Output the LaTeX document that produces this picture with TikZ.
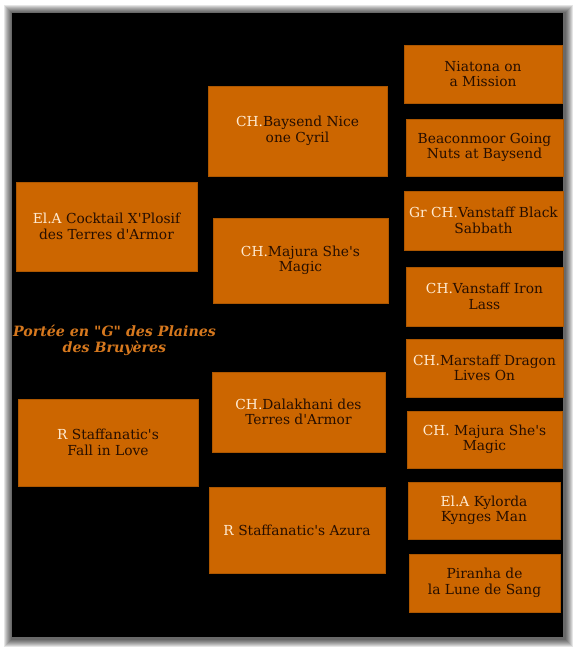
\documentclass[tikz,border=0pt]{standalone}
\usepackage{fontspec}
\setmainfont{DejaVu Serif}
\definecolor{boxorange}{RGB}{204,102,0}
\definecolor{namebrown}{RGB}{38,14,0}
\definecolor{prefixcream}{RGB}{255,236,212}
\definecolor{headorange}{RGB}{214,120,30}
\newcommand{\pfx}[1]{\textcolor{prefixcream}{#1}}
\newcommand{\ap}{\textquotesingle}

\begin{document}
\begin{tikzpicture}[%
        x=1pt, y=-1pt,
        dog/.style={rectangle, fill=boxorange, draw=boxorange!85!black, line width=0.5pt, text=namebrown, align=center, inner sep=0pt, font=\fontsize{13.8}{15.5}\selectfont}]
        % Background and shadow
        \useasboundingbox (0,0) rectangle (576,648);
        \fill[white] (0,0) rectangle (576,648);
        \foreach \s in {0,...,7}
            \fill[black, opacity=0.1] (4+\s,5+\s) rectangle (573-\s,647-\s);
        \fill[black] (12,13) rectangle (563,637);

        % Nodes
        \node [dog, minimum width=181pt, minimum height=89pt] (sire) at (106.5,226.5) {\pfx{El.A} Cocktail X\ap Plosif\\des Terres d\ap Armor};
        \node [dog, minimum width=180pt, minimum height=87pt] (dam) at (108,442.5) {\pfx{R} Staffanatic\ap s\\Fall in Love};

        \node [dog, minimum width=179pt, minimum height=90pt] (ss) at (297.5,131) {\pfx{CH.}Baysend Nice\\one Cyril};
        \node [dog, minimum width=175pt, minimum height=85pt] (sd) at (300.5,260.5) {\pfx{CH.}Majura She\ap s\\Magic};
        \node [dog, minimum width=173pt, minimum height=80pt] (ds) at (298.5,412) {\pfx{CH.}Dalakhani des\\Terres d\ap Armor};
        \node [dog, minimum width=176pt, minimum height=86pt] (dd) at (297,530) {\pfx{R} Staffanatic\ap s Azura};

        \node [dog, minimum width=158pt, minimum height=58pt] (sss) at (483,74) {Niatona on\\a Mission};
        \node [dog, minimum width=157pt, minimum height=57pt] (ssd) at (484.5,147.5) {Beaconmoor Going\\Nuts at Baysend};
        \node [dog, minimum width=159pt, minimum height=59pt] (sds) at (483.5,220.5) {\pfx{Gr CH.}Vanstaff Black\\Sabbath};
        \node [dog, minimum width=157pt, minimum height=59pt] (sdd) at (484.5,296.5) {\pfx{CH.}Vanstaff Iron\\Lass};
        \node [dog, minimum width=157pt, minimum height=58pt] (dss) at (484.5,368) {\pfx{CH.}Marstaff Dragon\\Lives On};
        \node [dog, minimum width=155pt, minimum height=57pt] (dsd) at (484.5,439.5) {\pfx{CH.} Majura She\ap s\\Magic};
        \node [dog, minimum width=152pt, minimum height=57pt] (dds) at (484,510.5) {\pfx{El.A} Kylorda\\Kynges Man};
        \node [dog, minimum width=151pt, minimum height=58pt] (ddd) at (484.5,583) {Piranha de\\la Lune de Sang};

        % Title
        \node [text=headorange, align=center, font=\fontsize{14.2}{16}\selectfont\bfseries\itshape] (litter) at (114.5,340) {Portée en \textquotedbl G\textquotedbl{} des Plaines\\des Bruyères};
    \end{tikzpicture}
\end{document}
